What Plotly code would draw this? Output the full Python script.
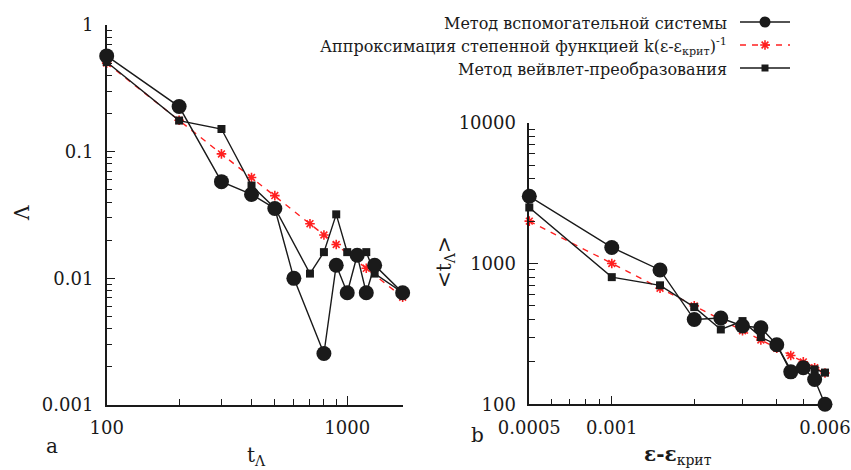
import plotly.graph_objects as go

# ---------------- data: panel a ----------------
a_circ_x = [100, 200, 300, 400, 500, 600, 800, 900, 1000, 1100, 1200, 1300, 1700]
a_circ_y = [0.57, 0.227, 0.058, 0.046, 0.0356, 0.010, 0.00255, 0.0127, 0.0077, 0.0152, 0.0077, 0.0127, 0.0077]
a_sq_x = [100, 200, 300, 400, 500, 700, 800, 900, 1000, 1100, 1200, 1300, 1700]
a_sq_y = [0.51, 0.176, 0.151, 0.054, 0.036, 0.0109, 0.0161, 0.032, 0.0161, 0.0155, 0.0161, 0.0109, 0.0077]
a_fit_x = [100, 200, 300, 400, 500, 700, 800, 900, 1200, 1700]
a_fit_y = [0.5, 0.177, 0.096, 0.0625, 0.045, 0.027, 0.022, 0.0185, 0.012, 0.0071]

# ---------------- data: panel b ----------------
b_x = [0.0005, 0.001, 0.0015, 0.002, 0.0025, 0.003, 0.0035, 0.004, 0.0045, 0.005, 0.0055, 0.006]
b_circ_y = [3000, 1300, 900, 400, 410, 360, 350, 265, 170, 182, 150, 100]
b_sq_y = [2500, 800, 700, 490, 340, 390, 300, 265, 175, 185, 177, 168]
b_fit_y = [2000, 1000, 667, 500, 400, 333, 286, 250, 222, 200, 182, 167]

a_xticks = [100, 1000]
a_yticks = [0.001, 0.01, 0.1, 1]
a_yticktext = ["0.001", "0.01", "0.1", "1"]
b_xticks = [0.0005, 0.001, 0.006]
b_xticktext = ["0.0005", "0.001", "0.006"]
b_yticks = [100, 1000, 10000]

legend_names = ["Метод вспомогательной системы",
                "Аппроксимация степенной функцией k(ε-ε<sub>крит</sub>)<sup>-1</sup>",
                "Метод вейвлет-преобразования"]

W, H = 851, 470
FONT = "DejaVu Serif"
TXT = "#1a1a1a"
BLK = "#1a1a1a"
RED = "#ff2020"

circ_m = dict(symbol="circle", size=15, color=BLK)
sq_m = dict(symbol="square", size=8, color=BLK)
star_m = dict(symbol="asterisk", size=8, color=RED, line=dict(color=RED, width=1.6))
blk_line = dict(color=BLK, width=1.4)
red_line = dict(color=RED, width=1.4, dash="6px,6px")

fig = go.Figure()
# panel a
fig.add_trace(go.Scatter(x=a_fit_x, y=a_fit_y, mode="lines+markers", line=red_line, marker=star_m,
                         xaxis="x", yaxis="y", cliponaxis=False, showlegend=False))
fig.add_trace(go.Scatter(x=a_sq_x, y=a_sq_y, mode="lines+markers", line=blk_line, marker=sq_m,
                         xaxis="x", yaxis="y", cliponaxis=False, showlegend=False))
fig.add_trace(go.Scatter(x=a_circ_x, y=a_circ_y, mode="lines+markers", line=blk_line, marker=circ_m,
                         xaxis="x", yaxis="y", cliponaxis=False, showlegend=False))
# panel b
fig.add_trace(go.Scatter(x=b_x, y=b_fit_y, mode="lines+markers", line=red_line, marker=star_m,
                         xaxis="x2", yaxis="y2", cliponaxis=False, showlegend=False))
fig.add_trace(go.Scatter(x=b_x, y=b_sq_y, mode="lines+markers", line=blk_line, marker=sq_m,
                         xaxis="x2", yaxis="y2", cliponaxis=False, showlegend=False))
fig.add_trace(go.Scatter(x=b_x, y=b_circ_y, mode="lines+markers", line=blk_line, marker=circ_m,
                         xaxis="x2", yaxis="y2", cliponaxis=False, showlegend=False))

# custom legend samples (text left, symbol right)
leg_rows = [22, 45, 68]
leg_markers = [dict(symbol="circle", size=11, color=BLK),
               star_m,
               dict(symbol="square", size=7, color=BLK)]
leg_lines = [blk_line, red_line, blk_line]
for i in range(3):
    fig.add_trace(go.Scatter(x=[740, 790], y=[leg_rows[i]] * 2, mode="lines", line=leg_lines[i],
                             xaxis="x3", yaxis="y3", showlegend=False, hoverinfo="skip"))
    fig.add_trace(go.Scatter(x=[765], y=[leg_rows[i]], mode="markers", marker=leg_markers[i],
                             xaxis="x3", yaxis="y3", showlegend=False, hoverinfo="skip"))

tickfont = dict(family=FONT, size=18, color=TXT)
axcommon = dict(type="log", showgrid=False, zeroline=False, showline=True, linecolor=BLK,
                linewidth=1.5, ticks="inside", ticklen=9, tickcolor=BLK, tickwidth=1.3,
                tickfont=tickfont, mirror=False, automargin=False, ticklabeloverflow="allow")

def minor_vals(decades):
    out = []
    for d in decades:
        for k in range(2, 10):
            out.append(k * d)
    return out

fig.update_layout(
    template="none",
    width=W, height=H, margin=dict(l=0, r=0, t=0, b=0, autoexpand=False),
    paper_bgcolor="white", plot_bgcolor="white", showlegend=False,
    xaxis=dict(axcommon, domain=[106.7 / W, 402.7 / W], range=[2, 3.2306], anchor="y",
               tickmode="array", tickvals=a_xticks, ticktext=["100", "1000"], ticklabelstandoff=6,
               minor=dict(tickmode="array", tickvals=minor_vals([100, 1000]), ticks="inside",
                          ticklen=6, tickcolor=BLK, tickwidth=1.2)),
    yaxis=dict(axcommon, domain=[1 - 405 / H, 1 - 25 / H], range=[-3, 0], anchor="x",
               tickmode="array", tickvals=a_yticks, ticktext=a_yticktext, ticklabelstandoff=8,
               minor=dict(tickmode="array", tickvals=minor_vals([0.001, 0.01, 0.1]), ticks="inside",
                          ticklen=6, tickcolor=BLK, tickwidth=1.2)),
    xaxis2=dict(axcommon, domain=[529.3 / W, 825 / W], range=[-3.30103, -2.22183], anchor="y2",
                tickmode="array", tickvals=b_xticks, ticktext=b_xticktext, ticklabelstandoff=6,
                minor=dict(tickmode="array",
                           tickvals=[0.0006, 0.0007, 0.0008, 0.0009, 0.002, 0.003, 0.004, 0.005],
                           ticks="inside", ticklen=6, tickcolor=BLK, tickwidth=1.2)),
    yaxis2=dict(axcommon, domain=[1 - 404.3 / H, 1 - 122.7 / H], range=[1.99999, 4], anchor="x2",
                tickmode="array", tickvals=b_yticks, ticktext=["100", "1000", "10000"], ticklabelstandoff=8,
                minor=dict(tickmode="array", tickvals=minor_vals([100, 1000]), ticks="inside",
                           ticklen=6, tickcolor=BLK, tickwidth=1.2)),
    xaxis3=dict(domain=[740 / W, 790 / W], range=[740, 790], visible=False, anchor="y3", automargin=False),
    yaxis3=dict(domain=[1 - 80 / H, 1 - 10 / H], range=[80, 10], visible=False, anchor="x3", automargin=False),
)

lfont = dict(family=FONT, size=16, color=TXT)
ann = []
for i, name in enumerate(legend_names):
    ann.append(dict(text=name, x=729 / W, y=1 - (leg_rows[i] + 1) / H, xref="paper", yref="paper",
                    xanchor="right", yanchor="middle", showarrow=False, font=lfont))
big = dict(family=FONT, size=20, color=TXT)
extra = [
    dict(text="Λ", x=22 / W, y=1 - 213 / H, textangle=-90, font=big),
    dict(text="t<sub>Λ</sub>", x=256 / W, y=1 - 456 / H, font=big),
    dict(text="&lt;t<sub>Λ</sub>&gt;", x=445 / W, y=1 - 262 / H, textangle=-90, font=big),
    dict(text="<b>ε-ε</b><sub>крит</sub>", x=678 / W, y=1 - 455 / H, font=big),
    dict(text="a", x=52 / W, y=1 - 446 / H, font=big),
    dict(text="b", x=477 / W, y=1 - 435 / H, font=big),
]
for a in extra:
    a.update(xref="paper", yref="paper", showarrow=False, xanchor="center", yanchor="middle")
fig.update_layout(annotations=ann + extra)

fig.write_html("out.html")
